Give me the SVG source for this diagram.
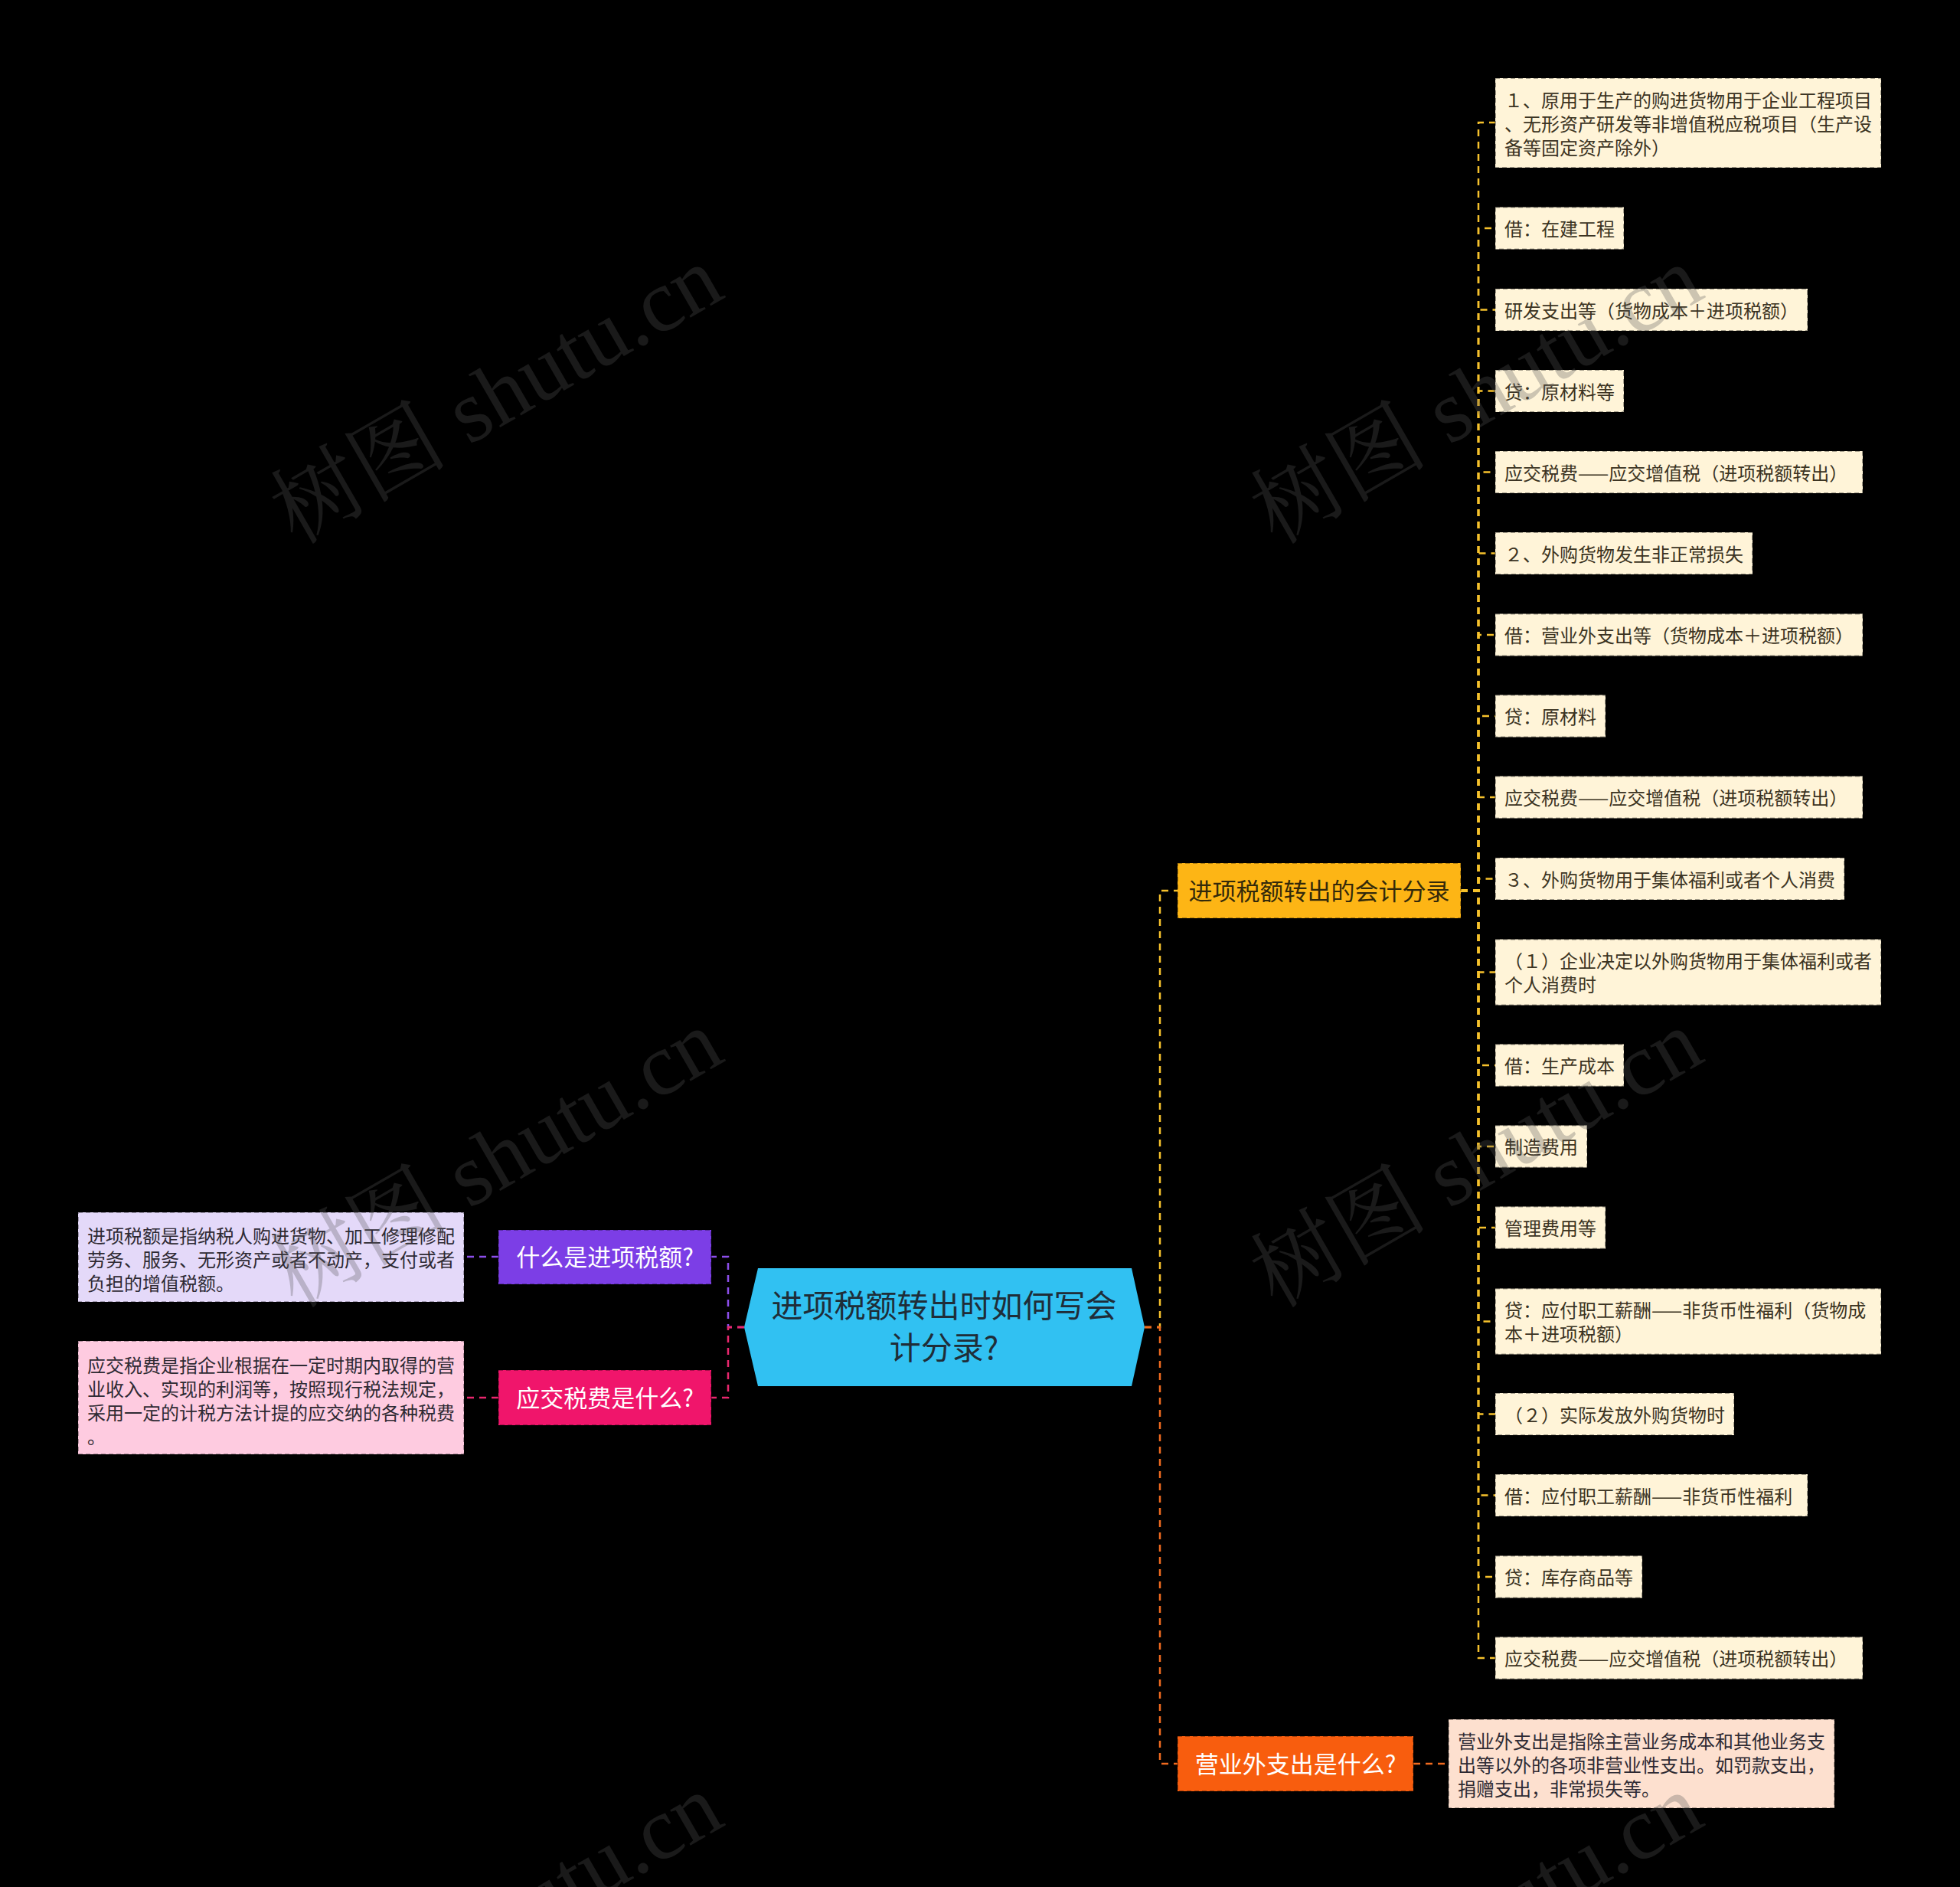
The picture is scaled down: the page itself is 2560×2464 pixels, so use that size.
<svg xmlns="http://www.w3.org/2000/svg" width="2560" height="2464" viewBox="0 0 2560 2464">
<style>
  text { font-family: "Noto Sans CJK SC", "Noto Sans", sans-serif; }
  .leaf rect { fill: #FFF4D8; stroke: #000; stroke-opacity: 0.35; stroke-width: 2; stroke-dasharray: 6 4; }
  .leaf text { font-size: 24px; fill: #3B3322; }
  .desc rect { stroke: #000; stroke-opacity: 0.3; stroke-width: 2; stroke-dasharray: 6 4; }
  .desc text { font-size: 24px; fill: #2E2A33; }
  .l1 rect { stroke: #000; stroke-opacity: 0.3; stroke-width: 2; stroke-dasharray: 6 4; }
  .l1 text { text-anchor: middle; font-size: 31px; }
  .conn path { fill: none; stroke-width: 2.5; stroke-dasharray: 9 7; }
  .cy { stroke: #F6C12C; }
  .co { stroke: #EF6A1F; }
  .cp { stroke: #8C4EEA; }
  .ck { stroke: #E8276E; }
  .wm { font-family: "Liberation Serif", "Noto Serif CJK SC", serif; font-size: 116px; fill: #555; fill-opacity: 0.3; text-anchor: middle; }
</style>
<rect x="0" y="0" width="2560" height="2464" fill="#000"/>

<g id="connectors" class="conn">
  <path class="cy" d="M1495 1733 H1515 V1163 H1538"/>
  <path class="co" d="M1495 1733 H1515 V2303 H1538"/>
  <path class="cp" d="M972 1733 H951 V1641 H929"/>
  <path class="ck" d="M972 1733 H951 V1825 H929"/>
  <path d="M1495 1733 H1515" stroke="#EF6A1F" stroke-dasharray="none"/>
  <path d="M972 1733 H951" stroke="#E8276E" stroke-dasharray="none"/>
  <path class="cp" d="M651 1641 H606"/>
  <path class="ck" d="M651 1825 H606"/>
  <path class="co" d="M1846 2303 H1892"/>
  <path class="cy" d="M1908 1163 H1931 V160 H1953"/>
  <path class="cy" d="M1908 1163 H1931 V298 H1953"/>
  <path class="cy" d="M1908 1163 H1931 V404.5 H1953"/>
  <path class="cy" d="M1908 1163 H1931 V510.5 H1953"/>
  <path class="cy" d="M1908 1163 H1931 V616.5 H1953"/>
  <path class="cy" d="M1908 1163 H1931 V722.5 H1953"/>
  <path class="cy" d="M1908 1163 H1931 V829 H1953"/>
  <path class="cy" d="M1908 1163 H1931 V935 H1953"/>
  <path class="cy" d="M1908 1163 H1931 V1041 H1953"/>
  <path class="cy" d="M1908 1163 H1931 V1147.5 H1953"/>
  <path class="cy" d="M1908 1163 H1931 V1269.5 H1953"/>
  <path class="cy" d="M1908 1163 H1931 V1391 H1953"/>
  <path class="cy" d="M1908 1163 H1931 V1497 H1953"/>
  <path class="cy" d="M1908 1163 H1931 V1603 H1953"/>
  <path class="cy" d="M1908 1163 H1931 V1725.5 H1953"/>
  <path class="cy" d="M1908 1163 H1931 V1846.5 H1953"/>
  <path class="cy" d="M1908 1163 H1931 V1952.5 H1953"/>
  <path class="cy" d="M1908 1163 H1931 V2059 H1953"/>
  <path class="cy" d="M1908 1163 H1931 V2165 H1953"/>
</g>

<g id="root">
  <polygon points="972,1733 990,1656 1478,1656 1495,1733 1478,1810 990,1810" fill="#31C1F2"/>
  <text x="1233" y="1720" font-size="41" text-anchor="middle" fill="#1F2D38">进项税额转出时如何写会</text>
  <text x="1233" y="1775" font-size="41" text-anchor="middle" fill="#1F2D38">计分录?</text>
</g>

<g id="n-jinxiang" class="l1">
  <rect x="1538" y="1127" width="370" height="72" fill="#FDB515"/>
  <text x="1723" y="1174.5" fill="#33290A">进项税额转出的会计分录</text>
</g>
<g id="n-yingyewai" class="l1">
  <rect x="1538" y="2267" width="308" height="72" fill="#F85D0E"/>
  <text x="1692" y="2314.5" fill="#FFFFFF">营业外支出是什么?</text>
</g>
<g id="n-shenme" class="l1">
  <rect x="651" y="1606" width="278" height="71" fill="#7C3EE6"/>
  <text x="790" y="1653" fill="#FFFFFF">什么是进项税额?</text>
</g>
<g id="n-yingjiao" class="l1">
  <rect x="651" y="1789" width="278" height="72" fill="#F0156B"/>
  <text x="790" y="1836.5" fill="#FFFFFF">应交税费是什么?</text>
</g>

<g id="d-jinxiang" class="desc">
  <rect x="102" y="1583" width="504" height="117" fill="#E4D9F9"/>
  <text x="114" y="1623">进项税额是指纳税人购进货物、加工修理修配</text>
  <text x="114" y="1654">劳务、服务、无形资产或者不动产，支付或者</text>
  <text x="114" y="1685">负担的增值税额。</text>
</g>
<g id="d-yingjiao" class="desc">
  <rect x="102" y="1751" width="504" height="148" fill="#FECBE0"/>
  <text x="114" y="1792">应交税费是指企业根据在一定时期内取得的营</text>
  <text x="114" y="1823">业收入、实现的利润等，按照现行税法规定，</text>
  <text x="114" y="1854">采用一定的计税方法计提的应交纳的各种税费</text>
  <text x="114" y="1885">。</text>
</g>
<g id="d-yingyewai" class="desc">
  <rect x="1892" y="2245" width="504" height="116" fill="#FDE0CF"/>
  <text x="1904" y="2283">营业外支出是指除主营业务成本和其他业务支</text>
  <text x="1904" y="2314">出等以外的各项非营业性支出。如罚款支出，</text>
  <text x="1904" y="2345">捐赠支出，非常损失等。</text>
</g>

<g id="leaf1" class="leaf">
  <rect x="1953" y="102" width="504" height="117"/>
  <text x="1965" y="140">１、原用于生产的购进货物用于企业工程项目</text>
  <text x="1965" y="171">、无形资产研发等非增值税应税项目（生产设</text>
  <text x="1965" y="202">备等固定资产除外）</text>
</g>
<g id="leaf2" class="leaf">
  <rect x="1953" y="270.5" width="168" height="55"/>
  <text x="1965" y="308">借：在建工程</text>
</g>
<g id="leaf3" class="leaf">
  <rect x="1953" y="377" width="408" height="55"/>
  <text x="1965" y="414.5">研发支出等（货物成本＋进项税额）</text>
</g>
<g id="leaf4" class="leaf">
  <rect x="1953" y="483" width="168" height="55"/>
  <text x="1965" y="520.5">贷：原材料等</text>
</g>
<g id="leaf5" class="leaf">
  <rect x="1953" y="589" width="480" height="55"/>
  <text x="1965" y="626.5">应交税费——应交增值税（进项税额转出）</text>
</g>
<g id="leaf6" class="leaf">
  <rect x="1953" y="695" width="336" height="55"/>
  <text x="1965" y="732.5">２、外购货物发生非正常损失</text>
</g>
<g id="leaf7" class="leaf">
  <rect x="1953" y="801.5" width="480" height="55"/>
  <text x="1965" y="839">借：营业外支出等（货物成本＋进项税额）</text>
</g>
<g id="leaf8" class="leaf">
  <rect x="1953" y="907.5" width="144" height="55"/>
  <text x="1965" y="945">贷：原材料</text>
</g>
<g id="leaf9" class="leaf">
  <rect x="1953" y="1013.5" width="480" height="55"/>
  <text x="1965" y="1051">应交税费——应交增值税（进项税额转出）</text>
</g>
<g id="leaf10" class="leaf">
  <rect x="1953" y="1120" width="456" height="55"/>
  <text x="1965" y="1157.5">３、外购货物用于集体福利或者个人消费</text>
</g>
<g id="leaf11" class="leaf">
  <rect x="1953" y="1226.5" width="504" height="86"/>
  <text x="1965" y="1264">（１）企业决定以外购货物用于集体福利或者</text>
  <text x="1965" y="1295">个人消费时</text>
</g>
<g id="leaf12" class="leaf">
  <rect x="1953" y="1363.5" width="168" height="55"/>
  <text x="1965" y="1401">借：生产成本</text>
</g>
<g id="leaf13" class="leaf">
  <rect x="1953" y="1469.5" width="120" height="55"/>
  <text x="1965" y="1507">制造费用</text>
</g>
<g id="leaf14" class="leaf">
  <rect x="1953" y="1575.5" width="144" height="55"/>
  <text x="1965" y="1613">管理费用等</text>
</g>
<g id="leaf15" class="leaf">
  <rect x="1953" y="1682.5" width="504" height="86"/>
  <text x="1965" y="1720">贷：应付职工薪酬——非货币性福利（货物成</text>
  <text x="1965" y="1751">本＋进项税额）</text>
</g>
<g id="leaf16" class="leaf">
  <rect x="1953" y="1819" width="312" height="55"/>
  <text x="1965" y="1856.5">（２）实际发放外购货物时</text>
</g>
<g id="leaf17" class="leaf">
  <rect x="1953" y="1925" width="408" height="55"/>
  <text x="1965" y="1962.5">借：应付职工薪酬——非货币性福利</text>
</g>
<g id="leaf18" class="leaf">
  <rect x="1953" y="2031.5" width="192" height="55"/>
  <text x="1965" y="2069">贷：库存商品等</text>
</g>
<g id="leaf19" class="leaf">
  <rect x="1953" y="2137.5" width="480" height="55"/>
  <text x="1965" y="2175">应交税费——应交增值税（进项税额转出）</text>
</g>

<g id="watermarks">
  <text class="wm" x="648" y="555" transform="rotate(-30 648 515)">树图 shutu.cn</text>
  <text class="wm" x="1928" y="555" transform="rotate(-30 1928 515)">树图 shutu.cn</text>
  <text class="wm" x="648" y="1552" transform="rotate(-30 648 1512)">树图 shutu.cn</text>
  <text class="wm" x="1928" y="1552" transform="rotate(-30 1928 1512)">树图 shutu.cn</text>
  <text class="wm" x="648" y="2550" transform="rotate(-30 648 2510)">树图 shutu.cn</text>
  <text class="wm" x="1928" y="2550" transform="rotate(-30 1928 2510)">树图 shutu.cn</text>
</g>
</svg>
